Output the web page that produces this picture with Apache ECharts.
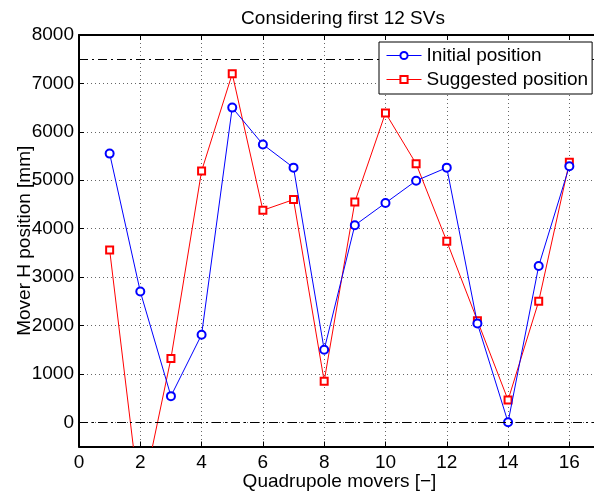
<!DOCTYPE html>
<html>
<head>
<meta charset="utf-8">
<script src="https://cdn.jsdelivr.net/npm/echarts@6/dist/echarts.min.js"></script>
<style>html,body{margin:0;padding:0;background:#fff}#c{width:594px;height:492px}</style>
</head>
<body>
<div id="c"></div>
<script>
const movers = [1,2,3,4,5,6,7,8,9,10,11,12,13,14,15,16];
const initialPos = [5550,2700,540,1810,6500,5740,5260,1500,4070,4530,4990,5260,2040,0,3230,5290];
const suggestedPos = [3560,-1700,1320,5190,7200,4380,4600,850,4550,6390,5340,3740,2100,460,2500,5370];
const yTicks = [0,1000,2000,3000,4000,5000,6000,7000,8000];
const refLines = [7500, 0];
const titleText = 'Considering first 12 SVs';
const xName = 'Quadrupole movers [\u2212]';
const yName = 'Mover H position [mm]';

const font = '"Liberation Sans", Arial, Helvetica, sans-serif';
const FS = 19;
const chart = echarts.init(document.getElementById('c'), null, {renderer:'canvas'});
const pairs = (ys) => movers.map((x,i)=>[x, ys[i]]);
chart.setOption({
  animation:false,
  backgroundColor:'#fff',
  textStyle:{fontFamily:font},
  title:{text:titleText, left:338, textAlign:'center', top:4,
    textStyle:{fontFamily:font, fontSize:FS, fontWeight:'normal', color:'#000'}},
  grid:{left:79, top:35, width:521, height:411.5, containLabel:false, outerBoundsMode:'none'},
  legend:{
    orient:'vertical', left:379, top:42, z:20,
    backgroundColor:'#fff', borderColor:'#000', borderWidth:1,
    padding:[4,4,5,7], itemGap:5, itemWidth:35, itemHeight:9,
    lineStyle:{width:1},
    textStyle:{fontFamily:font, fontSize:FS, color:'#000'},
    data:['Initial position','Suggested position']
  },
  xAxis:[{
    type:'value', min:0, max:17, interval:2, position:'bottom',
    name:xName, nameLocation:'middle', nameGap:26, nameMoveOverlap:false,
    nameTextStyle:{fontFamily:font, fontSize:FS, color:'#000', verticalAlign:'top'},
    axisLine:{onZero:false, lineStyle:{color:'#000', width:2}},
    axisTick:{inside:true, length:5, lineStyle:{color:'#000', width:1}},
    axisLabel:{fontFamily:font, fontSize:FS, color:'#000', margin:7,
      formatter:(v)=> (v>16 ? '' : String(v))},
    splitLine:{show:true, lineStyle:{color:'#666', type:[1,3], width:1}}
  },{
    type:'value', min:0, max:17, interval:2, position:'top',
    axisLine:{onZero:false, lineStyle:{color:'#000', width:2}},
    axisTick:{inside:true, length:5, lineStyle:{color:'#000', width:1}},
    axisLabel:{show:false}, splitLine:{show:false}
  }],
  yAxis:[{
    type:'value', min:-500, max:8000,
    name:yName, nameLocation:'middle', nameGap:45, nameMoveOverlap:false,
    nameTextStyle:{fontFamily:font, fontSize:FS, color:'#000'},
    axisLine:{onZero:false, lineStyle:{color:'#000', width:2}},
    axisTick:{inside:true, length:5, customValues:yTicks, lineStyle:{color:'#000', width:1}},
    axisLabel:{fontFamily:font, fontSize:FS, color:'#000', margin:5, customValues:yTicks,
      formatter:(v)=> String(v)},
    splitLine:{show:true, lineStyle:{color:'#666', type:[1,3], width:1}}
  }],
  series:[{
    name:'Initial position', type:'line', data:pairs(initialPos),
    symbol:'emptyCircle', symbolSize:8, clip:true,
    lineStyle:{color:'#0000ff', width:1},
    itemStyle:{color:'#0000ff', borderColor:'#0000ff', borderWidth:1},
    markLine:{silent:true, symbol:['none','none'], label:{show:false},
      lineStyle:{color:'#000', width:1, type:[9,4,2,4]},
      data: refLines.map(v=>({yAxis:v}))},
    z:3
  },{
    name:'Suggested position', type:'line', data:pairs(suggestedPos),
    symbol:'emptyRect', symbolSize:7, clip:true,
    lineStyle:{color:'#ff0000', width:1},
    itemStyle:{color:'#ff0000', borderColor:'#ff0000', borderWidth:1},
    z:2
  }]
});
</script>
</body>
</html>
